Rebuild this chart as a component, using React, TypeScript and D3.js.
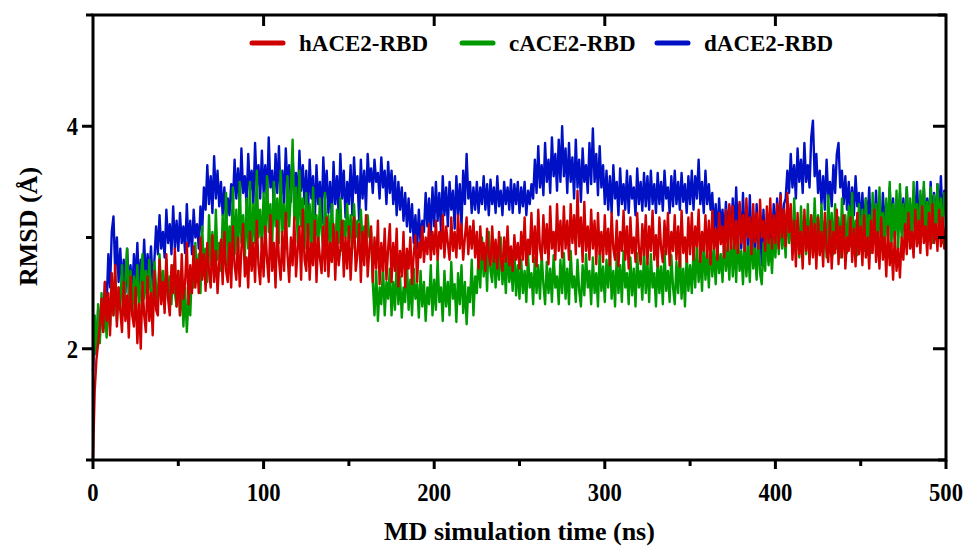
import * as d3 from 'd3';

// RMSD, one value per ns, 0..500 ns
const timeStep = 1;

const hACE2 = [
  // 0-24
  1.02, 1.62, 1.9, 2.05, 2.2, 2.45, 2.15, 2.6, 2.25, 2.5, 2.12, 2.68, 2.3, 2.75, 2.2, 2.55, 2.35, 2.15, 2.6, 2.25, 2.48, 2.1, 2.65, 2.3, 2.2,
  // 25-49
  2.55, 2.05, 2.4, 2.0, 2.6, 2.3, 2.15, 2.65, 2.25, 2.5, 2.12, 2.7, 2.35, 2.3, 2.8, 2.4, 2.6, 2.32, 2.85, 2.45, 2.3, 2.75, 2.5, 2.9, 2.38,
  // 50-74
  2.7, 2.3, 2.85, 2.45, 2.6, 2.95, 2.4, 2.75, 2.5, 2.92, 2.55, 2.8, 2.5, 3.0, 2.62, 2.85, 2.52, 2.95, 2.7, 2.55, 3.02, 2.6, 2.88, 2.5, 2.78,
  // 75-99
  2.98, 2.58, 3.05, 2.7, 2.6, 2.95, 2.55, 3.1, 2.75, 2.62, 3.0, 2.56, 2.9, 3.12, 2.65, 2.82, 2.55, 3.05, 2.7, 2.95, 2.6, 3.15, 2.75, 2.58, 3.0,
  // 100-124
  2.65, 3.1, 2.8, 2.6, 3.2, 2.7, 2.95, 2.55, 3.15, 2.8, 2.62, 3.05, 2.7, 3.22, 2.85, 2.6, 3.0, 2.75, 3.18, 2.65, 2.9, 3.1, 2.62, 3.25, 2.8,
  // 125-149
  2.7, 3.12, 2.62, 2.95, 2.75, 3.15, 2.6, 3.0, 2.82, 2.68, 3.1, 2.7, 3.18, 2.65, 2.95, 2.78, 3.12, 2.62, 3.05, 2.75, 2.9, 3.15, 2.65, 3.0, 2.72,
  // 150-174
  3.1, 2.62, 2.95, 3.18, 2.7, 2.85, 3.12, 2.6, 3.05, 2.75, 3.2, 2.65, 2.9, 3.1, 2.6, 3.0, 2.72, 3.15, 2.58, 2.95, 2.7, 3.08, 2.62, 2.9, 3.12,
  // 175-199
  2.6, 2.95, 2.7, 3.08, 2.56, 2.88, 2.65, 3.05, 2.55, 2.9, 2.72, 3.0, 2.58, 2.85, 3.02, 2.6, 2.95, 2.82, 3.1, 2.78, 3.0, 2.85, 3.12, 2.8, 3.05,
  // 200-224
  2.85, 3.15, 2.8, 3.05, 2.9, 3.2, 2.82, 3.1, 2.95, 2.8, 3.18, 2.88, 3.05, 2.82, 3.2, 2.9, 3.12, 2.8, 3.0, 3.18, 2.85, 3.1, 2.9, 3.15, 2.82,
  // 225-249
  3.05, 2.72, 3.1, 2.8, 2.95, 2.7, 3.08, 2.85, 2.75, 3.1, 2.78, 2.98, 2.72, 3.05, 2.82, 2.7, 3.0, 2.78, 3.1, 2.75, 2.92, 2.7, 3.02, 2.8, 2.95,
  // 250-274
  2.72, 3.05, 2.8, 3.18, 2.75, 2.98, 2.85, 3.22, 2.78, 3.1, 2.74, 3.25, 2.9, 2.8, 3.2, 2.86, 3.12, 2.76, 3.28, 2.9, 3.05, 2.8, 3.3, 2.88, 3.15,
  // 275-299
  2.82, 3.28, 2.9, 3.15, 2.8, 3.3, 2.95, 3.2, 2.85, 3.42, 2.92, 3.18, 2.78, 3.32, 2.88, 3.1, 2.8, 3.25, 2.9, 3.15, 2.76, 3.22, 2.85, 3.05, 2.78,
  // 300-324
  3.2, 2.85, 3.08, 2.75, 3.22, 2.9, 2.8, 3.15, 2.74, 3.05, 2.88, 3.24, 2.8, 3.1, 2.72, 3.18, 2.86, 3.0, 2.78, 3.22, 2.9, 2.76, 3.12, 2.84, 3.2,
  // 325-349
  2.76, 3.1, 2.88, 3.24, 2.8, 3.02, 2.74, 3.18, 2.9, 2.78, 3.15, 2.85, 3.22, 2.75, 3.05, 2.88, 3.2, 2.8, 3.1, 2.74, 3.24, 2.86, 3.0, 2.78, 3.18,
  // 350-374
  2.85, 3.22, 2.8, 3.1, 2.92, 3.25, 2.78, 3.05, 2.88, 3.2, 2.82, 3.15, 2.76, 3.24, 2.9, 3.08, 2.8, 3.22, 2.94, 3.1, 2.82, 3.25, 2.88, 3.3, 2.9,
  // 375-399
  3.28, 2.9, 3.15, 2.86, 3.32, 2.95, 3.2, 2.88, 3.35, 3.0, 3.18, 2.85, 3.3, 2.96, 3.22, 2.9, 3.34, 3.0, 3.15, 2.88, 3.28, 2.95, 3.35, 2.9, 3.2,
  // 400-424
  2.95, 3.3, 2.9, 3.38, 3.0, 3.25, 2.92, 3.4, 3.05, 3.3, 2.8, 3.15, 2.74, 3.22, 2.85, 3.05, 2.72, 3.25, 2.88, 3.1, 2.76, 3.2, 2.82, 3.12, 2.72,
  // 425-449
  3.18, 2.84, 3.05, 2.74, 3.22, 2.9, 2.78, 3.15, 2.72, 3.05, 2.86, 3.25, 2.76, 3.1, 2.82, 3.2, 2.72, 3.0, 2.88, 3.18, 2.78, 3.08, 2.74, 3.22, 2.85,
  // 450-474
  3.1, 2.75, 3.2, 2.82, 3.0, 2.72, 3.15, 2.86, 3.25, 2.78, 3.05, 2.72, 3.18, 2.8, 3.0, 2.65, 3.1, 2.75, 2.95, 2.62, 3.05, 2.7, 2.9, 2.64, 3.0,
  // 475-499
  2.8, 3.12, 2.85, 3.22, 2.9, 3.05, 2.82, 3.25, 2.92, 3.15, 2.86, 3.28, 2.95, 3.1, 2.84, 3.22, 2.9, 3.3, 2.95, 3.12, 2.88, 3.25, 2.92, 3.18, 2.9,
  3.1,
];

const cACE2 = [
  1.9, 2.3, 1.95, 2.4, 2.05, 2.5, 2.15, 2.35, 2.1, 2.45, 2.2, 2.6, 2.3, 2.7, 2.25, 2.55, 2.35, 2.75, 2.3, 2.6, 2.9, 2.4, 2.7, 2.3, 2.65,
  2.4, 2.75, 2.35, 2.6, 2.85, 2.45, 2.7, 2.38, 2.8, 2.5, 2.42, 2.78, 2.55, 2.4, 2.85, 2.48, 2.7, 2.36, 2.8, 2.45, 2.65, 2.4, 2.75, 2.5, 2.38,
  2.7, 2.3, 2.6, 2.2, 2.55, 2.15, 2.45, 2.3, 2.7, 2.55, 2.95, 2.6, 2.85, 2.5, 3.1, 2.7, 2.9, 2.6, 3.2, 2.75, 3.05, 2.65, 3.25, 2.8, 2.95,
  2.7, 3.2, 2.8, 3.4, 2.75, 3.1, 2.9, 3.45, 2.85, 3.25, 2.75, 3.5, 2.95, 3.2, 2.8, 3.35, 2.9, 3.5, 2.85, 3.3, 2.95, 3.6, 3.0, 3.25, 2.9,
  3.4, 2.95, 3.55, 3.05, 3.3, 2.9, 3.5, 3.1, 3.35, 2.95, 3.6, 3.05, 3.3, 2.9, 3.55, 3.1, 3.4, 3.88, 3.15, 3.45, 2.95, 3.6, 3.1, 3.35, 2.9,
  3.4, 2.95, 3.3, 2.85, 3.45, 3.0, 3.2, 2.88, 3.35, 3.05, 2.9, 3.4, 2.95, 3.2, 2.85, 3.3, 3.0, 2.9, 3.25, 2.95, 3.35, 2.88, 3.15, 3.0, 3.3,
  2.95, 3.2, 2.9, 3.3, 3.0, 3.15, 2.92, 3.25, 2.95, 3.1, 2.9, 3.2, 3.0, 3.05, 2.6, 2.3, 2.7, 2.25, 2.55, 2.4, 2.75, 2.3, 2.6, 2.45, 2.72,
  2.3, 2.6, 2.35, 2.78, 2.4, 2.65, 2.28, 2.55, 2.42, 2.8, 2.35, 2.62, 2.3, 2.72, 2.45, 2.58, 2.28, 2.7, 2.38, 2.6, 2.25, 2.55, 2.4, 2.75, 2.3,
  2.62, 2.35, 2.8, 2.42, 2.55, 2.25, 2.7, 2.38, 2.6, 2.3, 2.78, 2.45, 2.58, 2.24, 2.68, 2.4, 2.75, 2.32, 2.6, 2.22, 2.55, 2.42, 2.8, 2.3, 2.65,
  2.5, 2.85, 2.55, 3.0, 2.65, 2.9, 2.52, 3.05, 2.7, 2.6, 2.95, 2.55, 2.85, 2.62, 3.0, 2.58, 2.8, 2.5, 2.92, 2.6, 2.78, 2.52, 2.88, 2.48, 2.75,
  2.45, 2.8, 2.5, 2.7, 2.42, 2.85, 2.55, 2.68, 2.4, 2.82, 2.5, 2.75, 2.45, 2.85, 2.58, 2.4, 2.78, 2.5, 2.72, 2.42, 2.84, 2.55, 2.65, 2.4, 2.8,
  2.5, 2.86, 2.45, 2.72, 2.4, 2.88, 2.55, 2.65, 2.42, 2.8, 2.52, 2.38, 2.75, 2.48, 2.85, 2.55, 2.7, 2.4, 2.82, 2.5, 2.68, 2.38, 2.88, 2.52, 2.74,
  2.42, 2.8, 2.55, 2.9, 2.45, 2.7, 2.38, 2.85, 2.5, 2.75, 2.42, 2.88, 2.55, 2.68, 2.4, 2.82, 2.48, 2.72, 2.38, 2.86, 2.55, 2.7, 2.44, 2.9, 2.5,
  2.78, 2.42, 2.85, 2.55, 2.68, 2.38, 2.82, 2.5, 2.74, 2.4, 2.88, 2.52, 2.7, 2.42, 2.84, 2.55, 2.4, 2.78, 2.5, 2.9, 2.45, 2.72, 2.38, 2.86, 2.52,
  2.75, 2.5, 2.88, 2.55, 2.95, 2.6, 2.82, 2.52, 2.98, 2.62, 2.85, 2.55, 3.0, 2.65, 2.9, 2.58, 2.95, 2.68, 2.85, 2.6, 3.0, 2.7, 2.92, 2.62, 3.05,
  2.65, 2.95, 2.6, 3.05, 2.7, 2.88, 2.58, 3.0, 2.65, 2.92, 2.6, 3.08, 2.72, 2.9, 2.62, 3.02, 2.68, 2.58, 2.95, 2.7, 3.1, 2.75, 2.98, 2.68, 3.05,
  2.82, 3.15, 2.85, 3.25, 2.9, 3.1, 2.82, 3.3, 2.95, 3.2, 2.85, 3.35, 2.92, 3.15, 2.82, 3.28, 2.98, 3.12, 2.85, 3.3, 2.9, 3.2, 2.84, 3.35, 2.95,
  3.2, 2.85, 3.3, 2.92, 3.15, 2.82, 3.38, 2.95, 3.22, 2.85, 3.3, 2.9, 3.18, 2.82, 3.35, 2.98, 3.2, 2.86, 3.28, 2.92, 3.4, 2.88, 3.15, 2.84, 3.3,
  2.9, 3.25, 2.88, 3.35, 2.95, 3.2, 2.86, 3.4, 3.0, 3.3, 2.9, 3.45, 2.95, 3.22, 2.88, 3.35, 3.0, 3.5, 2.92, 3.3, 2.98, 3.42, 2.9, 3.48, 3.0,
  3.3, 2.95, 3.45, 3.0, 3.35, 2.92, 3.5, 3.05, 3.3, 2.95, 3.42, 3.02, 3.5, 2.98, 3.32, 3.05, 3.45, 2.95, 3.38, 3.0, 3.48, 3.05, 3.35, 2.95, 3.4,
  3.3,
];

const dACE2 = [
  1.8, 2.2, 1.95, 2.35, 2.1, 2.45, 2.25, 2.6, 2.4, 2.85, 2.55, 3.05, 3.19, 2.7, 3.0, 2.6, 2.9, 2.55, 2.8, 2.5, 2.9, 2.55, 2.75, 2.5, 2.85,
  2.6, 2.95, 2.55, 2.8, 2.62, 2.98, 2.58, 2.85, 2.65, 2.92, 2.56, 2.8, 3.1, 2.85, 3.2, 2.9, 3.05, 2.82, 3.25, 2.95, 3.12, 2.85, 3.28, 2.9, 3.15,
  2.88, 3.22, 2.95, 3.1, 2.86, 3.3, 2.92, 3.15, 2.85, 3.25, 3.0, 3.12, 2.9, 3.28, 3.05, 3.45, 3.25, 3.65, 3.3, 3.55, 3.22, 3.73, 3.35, 3.6, 3.28,
  3.5, 3.2, 3.45, 3.15, 3.35, 3.2, 3.48, 3.3, 3.7, 3.35, 3.62, 3.28, 3.8, 3.4, 3.55, 3.3, 3.75, 3.42, 3.6, 3.3, 3.85, 3.45, 3.65, 3.35, 3.78,
  3.4, 3.65, 3.3, 3.9, 3.45, 3.6, 3.28, 3.75, 3.4, 3.82, 3.35, 3.6, 3.3, 3.8, 3.45, 3.65, 3.32, 3.72, 3.4, 3.58, 3.28, 3.78, 3.42, 3.65, 3.3,
  3.6, 3.2, 3.7, 3.35, 3.55, 3.15, 3.65, 3.3, 3.5, 3.12, 3.72, 3.35, 3.6, 3.22, 3.5, 3.15, 3.68, 3.3, 3.55, 3.2, 3.75, 3.35, 3.6, 3.18, 3.5,
  3.3, 3.65, 3.2, 3.72, 3.4, 3.55, 3.15, 3.7, 3.35, 3.6, 3.25, 3.75, 3.5, 3.62, 3.4, 3.7, 3.5, 3.58, 3.35, 3.72, 3.45, 3.6, 3.3, 3.68, 3.4,
  3.6, 3.3, 3.55, 3.2, 3.5, 3.25, 3.45, 3.15, 3.4, 3.1, 3.35, 3.05, 3.3, 2.95, 3.2, 2.9, 3.25, 2.95, 3.15, 3.05, 3.4, 3.1, 3.35, 3.02, 3.45,
  3.1, 3.5, 3.15, 3.4, 3.05, 3.55, 3.2, 3.45, 3.1, 3.5, 3.25, 3.42, 3.08, 3.55, 3.2, 3.48, 3.1, 3.6, 3.3, 3.75, 3.35, 3.5, 3.22, 3.45, 3.25,
  3.5, 3.22, 3.45, 3.3, 3.55, 3.25, 3.48, 3.2, 3.52, 3.3, 3.45, 3.22, 3.55, 3.28, 3.42, 3.2, 3.5, 3.3, 3.45, 3.25, 3.52, 3.22, 3.48, 3.3, 3.5,
  3.22, 3.45, 3.28, 3.5, 3.2, 3.42, 3.3, 3.48, 3.35, 3.7, 3.4, 3.82, 3.45, 3.65, 3.38, 3.85, 3.5, 3.7, 3.4, 3.9, 3.55, 3.75, 3.42, 3.88, 3.5,
  4.0, 3.55, 3.8, 3.4, 3.85, 3.5, 3.72, 3.35, 3.88, 3.45, 3.7, 3.32, 3.8, 3.5, 3.65, 3.4, 3.85, 3.48, 3.98, 3.5, 3.75, 3.38, 3.82, 3.45, 3.65,
  3.3, 3.6, 3.25, 3.55, 3.22, 3.65, 3.35, 3.5, 3.2, 3.62, 3.3, 3.48, 3.25, 3.6, 3.22, 3.55, 3.35, 3.45, 3.2, 3.62, 3.3, 3.5, 3.24, 3.58, 3.28,
  3.55, 3.25, 3.6, 3.3, 3.48, 3.22, 3.58, 3.3, 3.5, 3.24, 3.6, 3.35, 3.45, 3.22, 3.55, 3.28, 3.6, 3.3, 3.5, 3.25, 3.58, 3.32, 3.48, 3.22, 3.55,
  3.3, 3.6, 3.25, 3.55, 3.35, 3.7, 3.3, 3.5, 3.22, 3.6, 3.3, 3.48, 3.25, 3.4, 3.05, 3.3, 3.0, 3.35, 3.08, 3.25, 3.0, 3.32, 3.05, 3.28, 2.98,
  3.35, 3.0, 3.45, 3.05, 3.3, 2.9, 3.4, 3.0, 3.25, 2.85, 3.38, 2.95, 3.2, 2.8, 3.3, 2.9, 3.15, 2.75, 3.25, 2.85, 3.1, 2.78, 3.2, 2.9, 3.3,
  2.95, 3.35, 3.05, 3.4, 3.0, 3.3, 3.35, 3.6, 3.4, 3.75, 3.45, 3.65, 3.35, 3.8, 3.5, 3.7, 3.4, 3.85, 3.5, 3.65, 3.45, 3.9, 4.05, 3.55, 3.75,
  3.4, 3.6, 3.3, 3.55, 3.25, 3.7, 3.35, 3.5, 3.28, 3.65, 3.4, 3.75, 3.85, 3.45, 3.6, 3.3, 3.55, 3.25, 3.5, 3.22, 3.45, 3.2, 3.55, 3.28, 3.4,
  3.1, 3.4, 3.05, 3.35, 3.15, 3.45, 3.02, 3.3, 3.1, 3.42, 3.05, 3.35, 3.0, 3.4, 3.12, 3.3, 3.02, 3.45, 3.1, 3.35, 3.0, 3.3, 3.08, 3.4, 3.05,
  3.35, 3.05, 3.45, 3.1, 3.3, 3.02, 3.42, 3.15, 3.5, 3.1, 3.38, 3.05, 3.45, 3.12, 3.35, 3.08, 3.5, 3.15, 3.4, 3.1, 3.48, 3.2, 3.55, 3.15, 3.42,
  3.3,
];

const seriesNames = ['hACE2-RBD', 'cACE2-RBD', 'dACE2-RBD'];
const seriesColors = ['#d00000', '#009a00', '#0010c4'];
const xTicks = [0, 100, 200, 300, 400, 500];
const xMinorTicks = [50, 150, 250, 350, 450];
const yTicks = [2, 4];
const yMinorTicks = [1, 3, 5];

const W = 967;
const H = 548;
const margin = { top: 15, right: 21, bottom: 88, left: 93 };
const font = '"Liberation Serif", "Times New Roman", serif';

export default function App() {
  const iw = W - margin.left - margin.right;
  const ih = H - margin.top - margin.bottom;

  const x = d3.scaleLinear().domain([0, 500]).range([0, iw]);
  const y = d3.scaleLinear().domain([1, 5]).range([ih, 0]);

  const line = d3.line<number>()
    .x((_, i) => x(i * timeStep))
    .y(d => y(d));

  const all = [hACE2, cACE2, dACE2];
  // blue drawn first, red on top
  const drawOrder = [2, 1, 0];

  const legendX = [252, 462, 657];
  const narrow = (cx: number) => `translate(${cx},0) scale(0.87,1) translate(${-cx},0)`;

  return (
    <svg width={W} height={H} style={{ position: 'absolute', left: 0, top: 0, background: '#fff' }}>
      <g transform={`translate(${margin.left},${margin.top})`}>
        {drawOrder.map(k => (
          <path key={k} d={line(all[k]) ?? ''} fill="none" stroke={seriesColors[k]}
            strokeWidth={2.4} strokeLinejoin="round" />
        ))}

        {/* frame */}
        <rect x={0} y={0} width={iw} height={ih} fill="none" stroke="#000" strokeWidth={3} />

        {/* bottom axis */}
        {xTicks.map(t => (
          <g key={'xb' + t}>
            <line x1={x(t)} x2={x(t)} y1={ih} y2={ih + 9} stroke="#000" strokeWidth={3} />
            <text x={x(t)} y={ih + 41} textAnchor="middle" fontFamily={font} fontWeight="bold"
              fontSize={26} transform={narrow(x(t))}>{t}</text>
          </g>
        ))}
        {xMinorTicks.map(t => (
          <line key={'xm' + t} x1={x(t)} x2={x(t)} y1={ih} y2={ih + 6} stroke="#000" strokeWidth={3} />
        ))}
        {/* top axis ticks, inward */}
        {xTicks.slice(1, -1).map(t => (
          <line key={'xt' + t} x1={x(t)} x2={x(t)} y1={0} y2={11} stroke="#000" strokeWidth={3} />
        ))}

        {/* left and right axis */}
        {yTicks.map(t => (
          <g key={'yl' + t}>
            <line x1={-11} x2={0} y1={y(t)} y2={y(t)} stroke="#000" strokeWidth={3} />
            <line x1={iw - 13} x2={iw} y1={y(t)} y2={y(t)} stroke="#000" strokeWidth={3} />
            <text x={-15} y={y(t)} dy="0.35em" textAnchor="end" fontFamily={font} fontWeight="bold"
              fontSize={26} transform={narrow(-15)}>{t}</text>
          </g>
        ))}
        {yMinorTicks.map(t => (
          <g key={'ym' + t}>
            <line x1={-7} x2={0} y1={y(t)} y2={y(t)} stroke="#000" strokeWidth={3} />
            <line x1={iw - 8} x2={iw} y1={y(t)} y2={y(t)} stroke="#000" strokeWidth={3} />
          </g>
        ))}

        {/* axis titles */}
        <text x={iw / 2} y={ih + 80} textAnchor="middle" fontFamily={font} fontWeight="bold"
          fontSize={26}>MD simulation time (ns)</text>
        <text transform={`translate(${-56},${y(3.1)}) rotate(-90)`} textAnchor="middle" fontFamily={font}
          fontWeight="bold" fontSize={26}>RMSD (Å)</text>
      </g>

      {/* legend */}
      {seriesNames.map((name, i) => (
        <g key={name} transform={`translate(${legendX[i]},43)`}>
          <line x1={0} x2={31} y1={0} y2={0} stroke={seriesColors[i]} strokeWidth={5} strokeLinecap="round" />
          <text x={47} y={8} fontFamily={font} fontWeight="bold" fontSize={23}>{name}</text>
        </g>
      ))}
    </svg>
  );
}
